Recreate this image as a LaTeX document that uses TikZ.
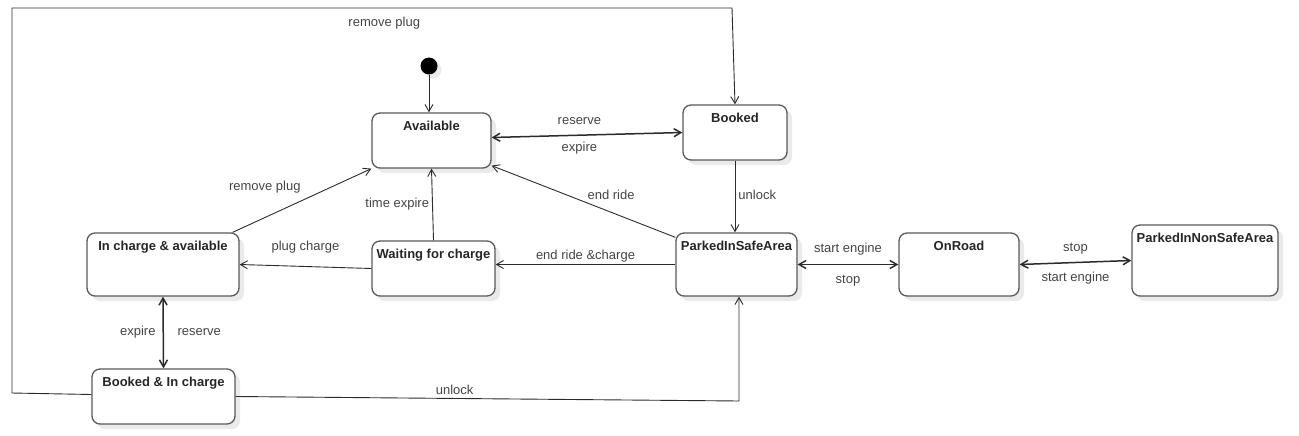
\documentclass[tikz,border=0pt]{standalone}
\usepackage{fontspec}
\setmainfont{Liberation Sans}
\definecolor{boxgray}{HTML}{5A5A5A}
\definecolor{linegray}{HTML}{2B2B2B}
\definecolor{lblgray}{HTML}{444444}
\definecolor{shadowgray}{HTML}{EAEAEA}
\usepackage{tikz}
\usetikzlibrary{arrows.meta, positioning, shadows, calc}

\begin{document}
\begin{tikzpicture}[x=1pt, y=-1pt, >={Straight Barb[length=7pt,width=8pt]}, State/.style={draw=boxgray, line width=1.3pt, rounded corners=8pt, fill=white, drop shadow={shadow xshift=5pt, shadow yshift=-5pt, opacity=1, fill=shadowgray}, font={\fontsize{13}{15}\selectfont\bfseries}, text=black!85, inner xsep=2pt, inner ysep=0pt, text height=17pt}, Lbl/.style={font={\fontsize{13}{15}\selectfont}, text=lblgray, inner sep=1pt, text height=9pt, text depth=3pt}, Trans/.style={draw=linegray, line width=0.9pt, ->}, Both/.style={draw=linegray, line width=1.5pt, <->}]
\useasboundingbox (0,0) rectangle (1299,436);
% States
\node[circle, fill=black, inner sep=0pt, minimum size=17pt, drop shadow={shadow xshift=4pt, shadow yshift=-4pt, opacity=1, fill=shadowgray}] (Init) at (429,66) {};
\node[State, minimum width=119pt, text depth=38pt] (Available) at (431.5,140.5) {Available};
\node[State, minimum width=104pt, text depth=38pt] (Booked) at (735,132.5) {Booked};
\node[State, minimum width=121pt, text depth=46pt] (PISA) at (736.5,264.5) {ParkedInSafeArea};
\node[State, minimum width=123pt, text depth=38pt] (Waiting) at (433.5,268.5) {Waiting for charge};
\node[State, minimum width=152pt, text depth=46pt] (InCharge) at (163,264.5) {In charge \& available};
\node[State, minimum width=143pt, text depth=38pt] (BIC) at (163.5,396.5) {Booked \& In charge};
\node[State, minimum width=120pt, text depth=46pt] (OnRoad) at (959,264.5) {OnRoad};
\node[State, minimum width=146pt, text depth=54pt] (PINSA) at (1205,260.5) {ParkedInNonSafeArea};
% Transitions
\draw[Trans] (Init) -- (Init |- Available.north);
\draw[Both] ([yshift=3pt]Available.east) -- node[Lbl, pos=0.46, above=6pt] (reserveLbl) {reserve} node[Lbl, pos=0.46, below=6pt] (expireLbl) {expire} (Booked.west);
\draw[Trans] (Booked.south) -- node[Lbl, right=2pt] (unlockLbl) {unlock} (Booked.south |- PISA.north);
\draw[Trans] ([yshift=-5pt]PISA.north west) -- node[Lbl, pos=0.35, above=8pt] (endRideLbl) {end ride} ([yshift=3pt]Available.south east);
\draw[Trans] (PISA.west) -- node[Lbl, above=1pt] (endChargeLbl) {end ride \&charge} (PISA.west -| Waiting.east);
\draw[Trans] (Waiting.north) -- node[Lbl, left=2pt] (timeExpireLbl) {time expire} (Available.south);
\draw[Trans] (Waiting.west) -- node[Lbl, above=12pt] (plugChargeLbl) {plug charge} (InCharge.east);
\draw[Trans] ([xshift=-7pt]InCharge.north east) -- node[Lbl, above left=6pt and 0pt] (removePlugLbl) {remove plug} (Available.south west);
\draw[Both] (InCharge.south) -- node[Lbl, left=6pt] (expireLblB) {expire} node[Lbl, right=12.5pt] (reserveLblB) {reserve} (BIC.north);
\coordinate (UnlockBend) at (739,401);
\draw[Trans] (BIC.east) -- node[Lbl, pos=0.435, above=0pt] (unlockLblB) {unlock} (UnlockBend) -- (UnlockBend |- PISA.south);
\coordinate (PlugLow) at (12,393);
\coordinate (PlugTop) at (12,8);
\coordinate (PlugRight) at (732,8);
\draw[Trans] ([yshift=2pt]BIC.west) -- (PlugLow) -- (PlugTop) -- node[Lbl, pos=0.517, below=8pt] (removePlugLblB) {remove plug} (PlugRight) -- (Booked.north);
\draw[Both] (PISA.east) -- node[Lbl, above=7pt] (startLbl) {start engine} node[Lbl, below=8pt] (stopLbl) {stop} (OnRoad.west);
\draw[Both] (OnRoad.east) -- node[Lbl, above=6.5pt] (stopLblB) {stop} node[Lbl, below=8pt] (startLblB) {start engine} (PINSA.west);
\end{tikzpicture}
\end{document}
